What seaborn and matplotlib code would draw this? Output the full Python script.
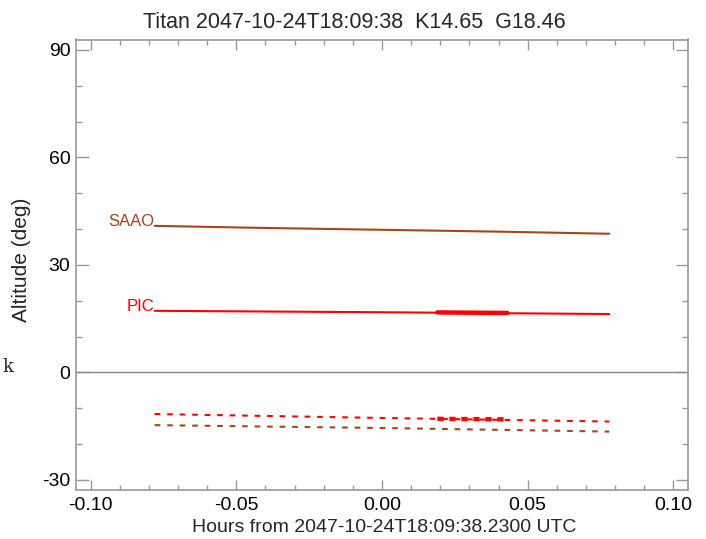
import matplotlib
matplotlib.use("Agg")
import matplotlib.pyplot as plt
import seaborn as sns
from matplotlib.ticker import MultipleLocator, FormatStrFormatter

sns.set_theme(style="white")
plt.rcParams['font.family'] = ['Liberation Sans', 'DejaVu Sans']

# ---- data ----
hours = [-0.078, -0.039, 0.0, 0.039, 0.078]
saao_alt = [40.9, 40.3, 39.8, 39.3, 38.7]
pic_alt = [17.2, 17.0, 16.8, 16.55, 16.3]
pic_shadow = [-11.6, -12.15, -12.7, -13.2, -13.7]
saao_shadow = [-14.7, -15.1, -15.5, -16.0, -16.5]
obs_hours = [0.019, 0.043]
pic_obs_alt = [16.75, 16.6]
pic_obs_shadow = [-12.95, -13.1]

title = "Titan 2047-10-24T18:09:38  K14.65  G18.46"
xlabel = "Hours from 2047-10-24T18:09:38.2300 UTC"
ylabel = "Altitude (deg)"
site_labels = ["SAAO", "PIC"]

brown = '#A5451A'
red = '#FF0000'
grey = '#999999'

W, H = 706, 539
fig = plt.figure(figsize=(W/100, H/100), dpi=100)
ax = fig.add_axes([76/W, 1-490/H, (688-76)/W, (490-39.5)/H])

ax.axhline(0, color='#888888', lw=1.0, zorder=1)

sns.lineplot(x=hours, y=saao_alt, ax=ax, color=brown, lw=1.5)
sns.lineplot(x=hours, y=pic_alt, ax=ax, color=red, lw=1.5)
sns.lineplot(x=obs_hours, y=pic_obs_alt, ax=ax, color=red, lw=3.2)
sns.lineplot(x=hours, y=pic_shadow, ax=ax, color=red, lw=1.5)
ax.lines[-1].set_dashes([2.7, 3.3])
sns.lineplot(x=hours, y=saao_shadow, ax=ax, color=brown, lw=1.5)
ax.lines[-1].set_dashes([2.7, 3.3])
sns.lineplot(x=obs_hours, y=pic_obs_shadow, ax=ax, color=red, lw=3.2)
ax.lines[-1].set_dashes([1.4, 1.3])

ax.text(hours[0], saao_alt[0], site_labels[0], color=brown, ha='right', va='baseline', fontsize=12)
ax.text(hours[0], pic_alt[0], site_labels[1], color=red, ha='right', va='baseline', fontsize=12)

ax.set_xlim(-0.105, 0.105)
ax.set_ylim(-32.8, 92.9)
ax.xaxis.set_major_locator(MultipleLocator(0.05))
ax.xaxis.set_minor_locator(MultipleLocator(0.01))
ax.yaxis.set_major_locator(MultipleLocator(30))
ax.yaxis.set_minor_locator(MultipleLocator(10))
ax.xaxis.set_major_formatter(FormatStrFormatter('%.2f'))
ax.yaxis.set_major_formatter(FormatStrFormatter('%d'))

ax.tick_params(axis='x', which='major', direction='in', length=7, width=1, color=grey,
               top=True, bottom=True, labelsize=14, pad=5, labelcolor='black')
ax.tick_params(axis='x', which='minor', direction='in', length=3.5, width=1, color=grey,
               top=True, bottom=True)
ax.tick_params(axis='y', which='major', direction='in', length=9, width=1, color=grey,
               left=True, right=True, labelsize=14, pad=4, labelcolor='black')
ax.tick_params(axis='y', which='minor', direction='in', length=4.5, width=1, color=grey,
               left=True, right=True)
for s in ax.spines.values():
    s.set_color(grey)
    s.set_linewidth(1.2)

fig.text(354/W, 1-28.3/H, title, fontsize=15.5, ha='center', va='baseline')
fig.text(384/W, 1-532/H, xlabel, fontsize=14, ha='center', va='baseline')
fig.text(22/W, 1-260/H, ylabel, fontsize=15, ha='center', va='center', rotation=90)

fig.text(8/W, 1-367/H, "k", family='DejaVu Serif', fontsize=13, ha='center', va='center')

fig.savefig("out.png", dpi=100)
